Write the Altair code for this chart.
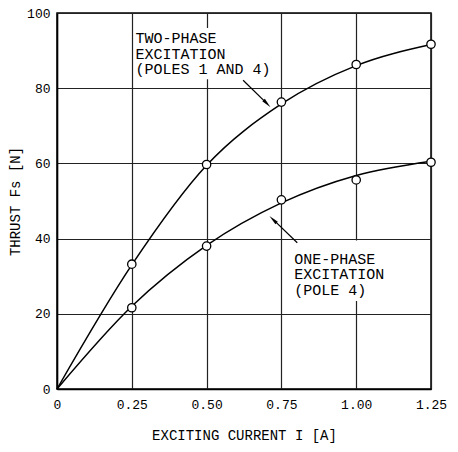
import altair as alt
import pandas as pd

# measured points
current = [0.25, 0.50, 0.75, 1.00, 1.25]
two_phase = [33.2, 59.7, 76.3, 86.3, 91.7]
one_phase = [21.6, 38.0, 50.3, 55.6, 60.3]

# drawn (fitted) curves
curve_x = [0.0, 0.25, 0.50, 0.75, 1.00, 1.25]
two_phase_curve = [0.0, 33.0, 59.5, 75.8, 86.0, 91.6]
one_phase_curve = [0.0, 22.0, 38.2, 49.5, 56.8, 60.6]

# annotation arrows (start -> head)
arrow_x = [0.622, 0.803]
arrow_y = [82.1, 38.9]
arrow_x2 = [0.702, 0.722]
arrow_y2 = [75.9, 45.1]
arrow_angle = [136, 314]

# white boxes behind the annotation labels (grid is interrupted there)
box_x = [0.262, 0.785]
box_x2 = [0.735, 1.2]
box_y = [82.4, 23.4]
box_y2 = [96.0, 39.5]

x_ticks = [0, 0.25, 0.5, 0.75, 1.0, 1.25]
y_ticks = [0, 20, 40, 60, 80, 100]

FONT = "Liberation Mono"

pts = pd.DataFrame({
    "I": current * 2,
    "F": two_phase + one_phase,
    "s": ["two"] * 5 + ["one"] * 5,
})
curves = pd.DataFrame({
    "I": curve_x * 2,
    "F": two_phase_curve + one_phase_curve,
    "s": ["two"] * 6 + ["one"] * 6,
})
arrows = pd.DataFrame({"x": arrow_x, "y": arrow_y, "x2": arrow_x2,
                       "y2": arrow_y2, "a": arrow_angle})
boxes = pd.DataFrame({"x": box_x, "x2": box_x2, "y": box_y, "y2": box_y2})

xs = alt.Scale(domain=[0, 1.25], nice=False, zero=False)
ys = alt.Scale(domain=[0, 100], nice=False)

xax = alt.Axis(values=x_ticks, title="EXCITING CURRENT  I [A]",
               labelExpr="datum.value == 0 ? '0' : format(datum.value, '.2f')",
               grid=True, tickSize=0, labelPadding=9, titlePadding=17,
               labelFlush=False)
yax = alt.Axis(values=y_ticks, title="THRUST Fs [N]", grid=True, tickSize=0,
               labelPadding=7, titlePadding=4)

lines = alt.Chart(curves).mark_line(color="black", strokeWidth=1.5,
                                    interpolate="monotone").encode(
    x=alt.X("I:Q", scale=xs, axis=xax),
    y=alt.Y("F:Q", scale=ys, axis=yax),
    detail="s:N",
)

bg = alt.Chart(boxes).mark_rect(color="white", opacity=1).encode(
    x=alt.X("x:Q", scale=xs), x2="x2:Q",
    y=alt.Y("y:Q", scale=ys), y2="y2:Q")

points = alt.Chart(pts).mark_point(shape="circle", filled=True, fill="white",
                                   stroke="black", strokeWidth=1.3, size=70,
                                   opacity=1).encode(
    x=alt.X("I:Q", scale=xs), y=alt.Y("F:Q", scale=ys))

rules = alt.Chart(arrows).mark_rule(color="black", strokeWidth=1.2).encode(
    x=alt.X("x:Q", scale=xs), y=alt.Y("y:Q", scale=ys),
    x2="x2:Q", y2="y2:Q")

heads = alt.Chart(arrows).mark_point(
    shape="M0,-1L0.35,1L-0.35,1Z", filled=True, color="black", size=100,
    opacity=1).encode(
    x=alt.X("x2:Q", scale=xs), y=alt.Y("y2:Q", scale=ys),
    angle=alt.Angle("a:Q", scale=None))

txt_two = alt.Chart(pd.DataFrame({"x": [0.262], "y": [92.0]})).mark_text(
    text=["TWO-PHASE", "EXCITATION", "(POLES 1 AND 4)"], font=FONT,
    fontSize=15, lineHeight=15.5, align="left", baseline="alphabetic",
    color="black").encode(x=alt.X("x:Q", scale=xs), y=alt.Y("y:Q", scale=ys))

txt_one = alt.Chart(pd.DataFrame({"x": [0.793], "y": [33.3]})).mark_text(
    text=["ONE-PHASE", "EXCITATION", "(POLE 4)"], font=FONT,
    fontSize=15, lineHeight=15.5, align="left", baseline="alphabetic",
    color="black").encode(x=alt.X("x:Q", scale=xs), y=alt.Y("y:Q", scale=ys))

chart = alt.layer(lines, bg, rules, heads, points, txt_two, txt_one).properties(
    width=374, height=376,
    autosize=alt.AutoSizeParams(type="none"),
    padding={"left": 49, "top": 5, "right": 19, "bottom": 55},
    background="white",
).configure_view(stroke="black", strokeWidth=1.5).configure_axis(
    domainColor="black", domainWidth=1.5, gridColor="#222222", gridWidth=1.2,
    gridOpacity=1, labelFont=FONT, labelFontSize=13, labelColor="black",
    titleFont=FONT, titleFontSize=14, titleColor="black", titleFontWeight="normal",
)

chart.save("out.html", embed_options={"renderer": "svg", "actions": False})
